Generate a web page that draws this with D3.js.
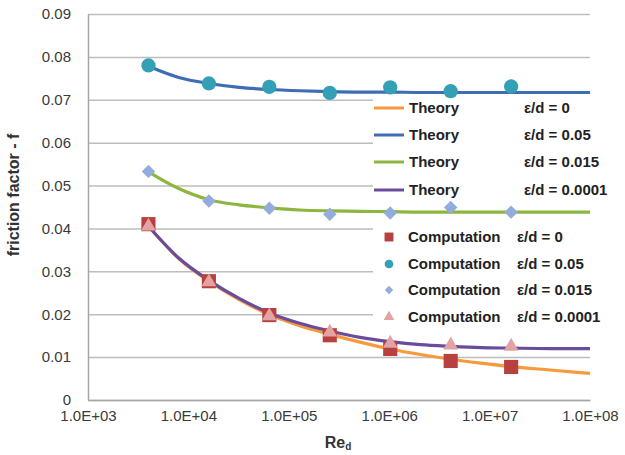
<!DOCTYPE html>
<html>
<head>
<meta charset="utf-8">
<script src="https://cdn.jsdelivr.net/npm/d3@7"></script>
<style>
  body { margin: 0; background: #fff; }
  svg { display: block; font-family: "Liberation Sans", Arial, sans-serif; }
</style>
</head>
<body>
<div id="container"></div>
<script>
"use strict";

// Reynolds numbers where the computed points sit
const reComp = [4e3, 1.6e4, 6.4e4, 2.56e5, 1.024e6, 4.096e6, 1.6384e7];
// Reynolds numbers sampled along the theory curves
const reTheory = [4e3, 8e3, 1.6e4, 3.2e4, 6.4e4, 1.28e5, 2.56e5, 5.12e5,
	1.024e6, 2.048e6, 4.096e6, 8.192e6, 1.6384e7, 4e7, 1e8];

// theory curves
const theory0 = [0.0405, 0.0330, 0.0277, 0.0234, 0.0199, 0.0173, 0.0153, 0.0135,
	0.0119, 0.0106, 0.0095, 0.0086, 0.0078, 0.0070, 0.0062];
const theory005 = [0.0778, 0.0752, 0.0738, 0.0729, 0.0724, 0.0721, 0.0719, 0.0718,
	0.0718, 0.0717, 0.0717, 0.0717, 0.0717, 0.0717, 0.0717];
const theory0015 = [0.0532, 0.0493, 0.0467, 0.0455, 0.0448, 0.0443, 0.0441, 0.0440,
	0.0439, 0.0438, 0.0438, 0.0438, 0.0438, 0.0438, 0.0438];
const theory00001 = [0.0405, 0.0331, 0.0279, 0.0237, 0.0203, 0.0179, 0.0161, 0.0146,
	0.0136, 0.0129, 0.0125, 0.0122, 0.0121, 0.0120, 0.0120];

// computed points
const comp0 = [0.0410, 0.0277, 0.0198, 0.0151, 0.0119, 0.0091, 0.0077];
const comp005 = [0.0780, 0.0738, 0.0730, 0.0716, 0.0729, 0.0720, 0.0731];
const comp0015 = [0.0533, 0.0464, 0.0447, 0.0433, 0.0436, 0.0449, 0.0438];
const comp00001 = [0.0405, 0.0275, 0.0196, 0.0158, 0.0132, 0.0128, 0.0125];

const yTicks = [0, 0.01, 0.02, 0.03, 0.04, 0.05, 0.06, 0.07, 0.08, 0.09];
const xTicks = [1e3, 1e4, 1e5, 1e6, 1e7, 1e8];
const xTickLabels = ["1.0E+03", "1.0E+04", "1.0E+05", "1.0E+06", "1.0E+07", "1.0E+08"];

const theoryNames = ["\u03b5/d = 0", "\u03b5/d = 0.05", "\u03b5/d = 0.015", "\u03b5/d  = 0.0001"];
const compNames = ["\u03b5/d = 0", "\u03b5/d = 0.05", "\u03b5/d = 0.015", "\u03b5/d = 0.0001"];

const W = 625, H = 455;
const svg = d3.select("#container").append("svg")
	.attr("width", W).attr("height", H);

const x = d3.scaleLog().domain([1e3, 1e8]).range([88, 590]);
const y = d3.scaleLinear().domain([0, 0.09]).range([400, 14]);

// gridlines
svg.append("g")
	.attr("transform", "translate(88,0)")
	.call(d3.axisLeft(y).tickValues(yTicks).tickSize(-502).tickFormat(""))
	.call(g => g.select(".domain").remove())
	.call(g => g.selectAll("line").attr("stroke", "#bdbdbd").attr("stroke-width", 1.5));

// y tick labels
svg.append("g")
	.attr("transform", "translate(88,0)")
	.call(d3.axisLeft(y).tickValues(yTicks).tickSize(0).tickPadding(17)
		.tickFormat(d => d === 0 ? "0" : d3.format(".2f")(d)))
	.call(g => g.select(".domain").attr("stroke", "#a6a6a6").attr("stroke-width", 1.5))
	.call(g => g.selectAll("text").attr("font-size", 15).attr("fill", "#3a3a3a")
		.attr("font-family", "Liberation Sans, Arial, sans-serif"));

// x axis
svg.append("g")
	.attr("transform", "translate(0,400)")
	.call(d3.axisBottom(x).tickValues(xTicks).tickSize(0).tickPadding(10)
		.tickFormat((d, i) => xTickLabels[i]))
	.call(g => g.select(".domain").attr("stroke", "#a6a6a6").attr("stroke-width", 1.5))
	.call(g => g.selectAll("text").attr("font-size", 15).attr("fill", "#3a3a3a")
		.attr("font-family", "Liberation Sans, Arial, sans-serif"));

// axis titles
svg.append("text")
	.attr("transform", "translate(19,195) rotate(-90)")
	.attr("text-anchor", "middle")
	.attr("font-size", 16).attr("font-weight", "bold").attr("fill", "#333")
	.text("friction factor - f");

const xt = svg.append("text")
	.attr("x", 338).attr("y", 448)
	.attr("text-anchor", "middle")
	.attr("font-size", 16).attr("font-weight", "bold").attr("fill", "#333");
xt.append("tspan").text("Re");
xt.append("tspan").attr("font-size", 10).attr("dy", 2).text("d");

// legend background (hides gridlines)
svg.append("rect")
	.attr("x", 373).attr("y", 96).attr("width", 252).attr("height", 236)
	.attr("fill", "#fff");

// theory lines
const theoryColors = ["#f79a3e", "#3d6db3", "#8db640", "#6a4c9c"];
const theorySeries = [theory0, theory005, theory0015, theory00001];
const line = d3.line()
	.x(d => x(d[0]))
	.y(d => y(d[1]))
	.curve(d3.curveMonotoneX);

// draw order: orange, blue, green, purple (purple on top of orange)
theorySeries.forEach((vals, i) => {
	svg.append("path")
		.datum(reTheory.map((r, j) => [r, vals[j]]))
		.attr("fill", "none")
		.attr("stroke", theoryColors[i])
		.attr("stroke-width", 3.2)
		.attr("stroke-linejoin", "round")
		.attr("d", line);
});

// computation markers
const compColors = ["#b8403e", "#34a0b6", "#93acdb", "#e3a3a2"];
const compSeries = [comp0, comp005, comp0015, comp00001];
const symbols = [
	d3.symbol().type(d3.symbolSquare).size(200),
	d3.symbol().type(d3.symbolCircle).size(160),
	d3.symbol().type(d3.symbolDiamond2 || d3.symbolDiamond).size(115),
	d3.symbol().type(d3.symbolTriangle).size(95)
];

compSeries.forEach((vals, i) => {
	svg.append("g")
		.selectAll("path")
		.data(reComp.map((r, j) => [r, vals[j]]))
		.join("path")
		.attr("transform", d => `translate(${x(d[0])},${y(d[1])})`)
		.attr("d", symbols[i])
		.attr("fill", compColors[i]);
});

// legend: theory
const legTheoryY = [108, 135, 162, 190];
const lt = svg.append("g");
legTheoryY.forEach((ly, i) => {
	lt.append("line")
		.attr("x1", 374).attr("x2", 404).attr("y1", ly).attr("y2", ly)
		.attr("stroke", theoryColors[i]).attr("stroke-width", 3);
	lt.append("text")
		.attr("x", 409).attr("y", ly + 5)
		.attr("font-size", 15).attr("font-weight", "bold").attr("fill", "#222")
		.text("Theory");
	lt.append("text")
		.attr("x", 524).attr("y", ly + 5)
		.attr("font-size", 15).attr("font-weight", "bold").attr("fill", "#222")
		.text(theoryNames[i]);
});

// legend: computation
const legCompY = [237, 264, 290, 317];
const legSymbols = [
	d3.symbol().type(d3.symbolSquare).size(80),
	d3.symbol().type(d3.symbolCircle).size(60),
	d3.symbol().type(d3.symbolDiamond2 || d3.symbolDiamond).size(45),
	d3.symbol().type(d3.symbolTriangle).size(50)
];
const lc = svg.append("g");
legCompY.forEach((ly, i) => {
	lc.append("path")
		.attr("transform", `translate(389,${ly})`)
		.attr("d", legSymbols[i])
		.attr("fill", compColors[i]);
	lc.append("text")
		.attr("x", 408).attr("y", ly + 5)
		.attr("font-size", 15).attr("font-weight", "bold").attr("fill", "#222")
		.text("Computation");
	lc.append("text")
		.attr("x", 517).attr("y", ly + 5)
		.attr("font-size", 15).attr("font-weight", "bold").attr("fill", "#222")
		.text(compNames[i]);
});
</script>
</body>
</html>
